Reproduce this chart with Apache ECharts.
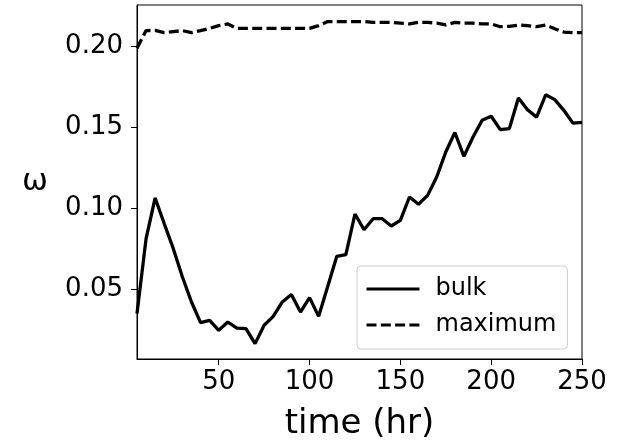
<!DOCTYPE html>
<html>
<head>
<meta charset="utf-8">
<script src="https://cdn.jsdelivr.net/npm/echarts@6/dist/echarts.min.js"></script>
<style>html,body{margin:0;padding:0;background:#fff;}#c{width:638px;height:441px;}</style>
</head>
<body>
<div id="c"></div>
<script>
var times = [5,10,15,20,25,30,35,40,45,50,55,60,65,70,75,80,85,90,95,100,105,110,115,120,125,130,135,140,145,150,155,160,165,170,175,180,185,190,195,200,205,210,215,220,225,230,235,240,245,250];
var bulk = [0.0352,0.0815,0.1066,0.0907,0.0753,0.0578,0.0424,0.0296,0.0310,0.0249,0.0300,0.0263,0.0259,0.0167,0.0280,0.0335,0.0424,0.0470,0.0362,0.0451,0.0335,0.0520,0.0706,0.0716,0.0967,0.0870,0.0938,0.0938,0.0893,0.0928,0.1072,0.1027,0.1082,0.1195,0.1350,0.1470,0.1323,0.1442,0.1545,0.1570,0.1488,0.1494,0.1683,0.1611,0.1565,0.1703,0.1673,0.1607,0.1528,0.1533];
var maximum = [0.1990,0.2099,0.2100,0.2086,0.2093,0.2099,0.2086,0.2099,0.2113,0.2130,0.2140,0.2113,0.2113,0.2113,0.2113,0.2113,0.2113,0.2113,0.2113,0.2113,0.2130,0.2155,0.2155,0.2155,0.2155,0.2155,0.2150,0.2150,0.2150,0.2145,0.2140,0.2150,0.2150,0.2145,0.2134,0.2150,0.2145,0.2145,0.2140,0.2140,0.2123,0.2125,0.2133,0.2130,0.2123,0.2133,0.2110,0.2090,0.2086,0.2086];
var xTicks = [50,100,150,200,250];
var yTicks = [0.05,0.10,0.15,0.20];
var seriesNames = ['bulk','maximum'];

function pairs(xs, ys){ return xs.map(function(x,i){ return [x, ys[i]]; }); }

var FONT = 'DejaVu Sans';
var chart = echarts.init(document.getElementById('c'), null, {renderer:'canvas'});
chart.setOption({
  animation: false,
  textStyle: {fontFamily: FONT},
  grid: {left:137, right:56, top:5, bottom:82, outerBoundsMode:'none', containLabel:false,
         show:true, borderColor:'#000', borderWidth:1, backgroundColor:'transparent'},
  xAxis: {
    type:'value', min:5, max:250,
    name:'time (hr)', nameLocation:'middle', nameGap:48,
    nameTextStyle:{fontFamily:FONT, fontSize:34, color:'#000'},
    axisLine:{show:true, onZero:false, lineStyle:{color:'#000', width:1}},
    axisTick:{show:true, length:6, lineStyle:{color:'#000', width:1}, customValues:xTicks},
    axisLabel:{fontFamily:FONT, fontSize:26, color:'#000', margin:10, customValues:xTicks},
    splitLine:{show:false}
  },
  yAxis: {
    type:'value', min:0.0072, max:0.2257,
    name:'ω', nameLocation:'middle', nameGap:89, nameRotate:0,
    nameTextStyle:{fontFamily:FONT, fontSize:31, color:'#000'},
    axisLine:{show:true, onZero:false, lineStyle:{color:'#000', width:1}},
    axisTick:{show:true, length:6, lineStyle:{color:'#000', width:1}, customValues:yTicks},
    axisLabel:{fontFamily:FONT, fontSize:26, color:'#000', margin:14, customValues:yTicks,
      formatter:function(v){ return v.toFixed(2); }},
    splitLine:{show:false}
  },
  legend: {
    orient:'vertical', left:357, top:266,
    padding:[11,11,12,8],
    itemWidth:53, itemHeight:14, itemGap:12,
    backgroundColor:'rgba(255,255,255,0.8)', borderColor:'#cccccc', borderWidth:1, borderRadius:4,
    itemStyle:{opacity:0},
    lineStyle:{width:3},
    textStyle:{fontFamily:FONT, fontSize:24, color:'#000', padding:[0,0,0,11]},
    data:[{name:seriesNames[0]},{name:seriesNames[1]}]
  },
  series: [
    {name:seriesNames[0], type:'line', data:pairs(times,bulk), symbol:'none', showSymbol:false,
     lineStyle:{color:'#000', width:3.3}, itemStyle:{color:'#000'}, z:3},
    {name:seriesNames[1], type:'line', data:pairs(times,maximum), symbol:'none', showSymbol:false,
     lineStyle:{color:'#000', width:3.3, type:[10,4.3]}, itemStyle:{color:'#000'}, z:3}
  ]
});
</script>
</body>
</html>
